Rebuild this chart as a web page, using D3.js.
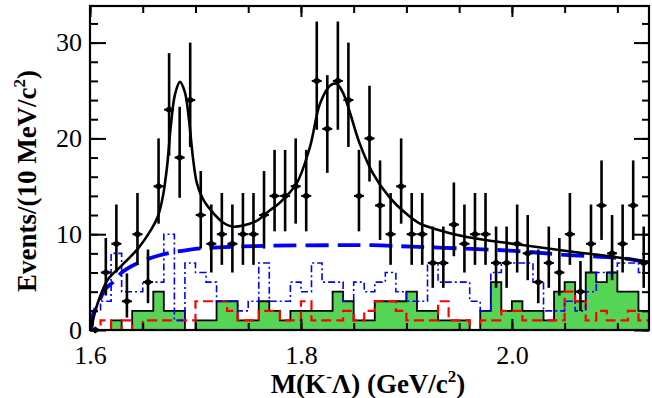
<!DOCTYPE html>
<html><head><meta charset="utf-8">
<script src="https://cdn.jsdelivr.net/npm/d3@7"></script>
<style>body{margin:0;background:#fff}svg{display:block}</style>
</head><body>
<svg id="chart" width="652" height="398"></svg>
<script>
// ---- data ----
const massBins = [1.605,1.615,1.625,1.635,1.645,1.655,1.665,1.675,1.685,1.695,
  1.705,1.715,1.725,1.735,1.745,1.755,1.765,1.775,1.785,1.795,
  1.805,1.815,1.825,1.835,1.845,1.855,1.865,1.875,1.885,1.895,
  1.905,1.915,1.925,1.935,1.945,1.955,1.965,1.975,1.985,1.995,
  2.005,2.015,2.025,2.035,2.045,2.055,2.065,2.075,2.085,2.095,
  2.105,2.115,2.125];
const counts = [0,6,9,3,10,5,15,23,18,24, 12,9,10,9,10,10,12,14,14,15,
  14,26,21,26,24,14,20,13,10,15, 10,10,7,7,11,9,10,10,7,7,
  9,8,5,7,6,10,4,9,13,8, 9,13,7];
const errLo = [0,2.4,3.0,1.7,3.2,2.2,3.9,4.8,4.2,4.9, 3.5,3.0,3.2,3.0,3.2,3.2,3.5,3.7,3.7,3.9,
  3.7,5.1,4.6,5.1,4.9,3.7,4.5,3.6,3.2,3.9, 3.2,3.2,2.6,2.6,3.3,3.0,3.2,3.2,2.6,2.6,
  3.0,2.8,2.2,2.6,2.4,3.2,2.0,3.0,3.6,2.8, 3.0,3.6,2.6];
const errHi = [0,3.6,4.1,2.9,4.3,3.4,5.0,5.9,5.3,6.0, 4.6,4.1,4.3,4.1,4.3,4.3,4.6,4.8,4.8,5.0,
  4.8,6.2,5.6,6.2,6.0,4.8,5.5,4.7,4.3,5.0, 4.3,4.3,3.8,3.8,4.4,4.1,4.3,4.3,3.8,3.8,
  4.1,4.0,3.4,3.8,3.6,4.3,3.2,4.1,4.7,4.0, 4.1,4.7,3.8];
const greenHist = [0,0,1,0,2,2,4,2,2,0, 1,1,3,3,1,1,3,2,1,2,
  2,2,2,4,3,1,1,3,3,3, 4,2,2,1,1,1,0,2,5,2,
  3,2,2,1,4,5,3,6,5,6, 4,4,2];
const redHist = [0,1,0,1,0,1,1,1,1,1, 3,3,3,2,1,1,2,2,1,1,
  3,1,1,1,2,1,2,3,3,2, 1,1,1,3,1,1,0,1,1,2,
  2,1,1,1,1,4,3,1,2,1, 1,2,1];
const blueHist = [2,3,8,4,4,5,5,10,1,7, 6,5,3,3,2,3,7,3,3,5,
  4,7,5,5,3,5,4,5,6,4, 3,3,7,5,5,5,3,2,6,7,
  7,7,5,2,2,3,2,4,6,6, 7,7,6];
const fitMass = [1.6000,1.6012,1.6076,1.6171,1.6297,1.6455,1.6581,1.6645,1.6692,1.6730,
  1.6768,1.6806,1.6853,1.6900,1.6938,1.6976,1.7014,1.7074,1.7169,1.7264,
  1.7343,1.7453,1.7580,1.7706,1.7801,1.7959,1.8085,1.8180,1.8275,1.8338,
  1.8401,1.8464,1.8559,1.8685,1.8844,1.9002,1.9128,1.9254,1.9571,2.0045,
  2.0519,2.0992,2.1300];
const fitValue = [0,0.4,2.9,5.3,6.7,8.5,10.5,11.9,14.0,17.0,
  21.5,24.6,25.9,24.8,22.0,18.0,15.3,13.6,12.2,11.2,
  10.8,10.9,11.4,12.5,13.3,15.3,19.1,23.6,25.5,25.7,
  24.7,22.7,19.4,16.3,13.8,12.1,11.1,10.6,9.7,8.95,
  8.25,7.6,7.1];
const bgMass = [1.6000,1.6017,1.6028,1.6092,1.6140,1.6218,1.6313,1.6455,1.6661,1.6950,
  1.7270,1.7750,1.8300,1.8670,1.9050,1.9550,2.0030,2.0500,2.1070,2.1300];
const bgValue = [0,0.4,1.6,3.1,4.2,5.0,6.1,7.0,7.8,8.4,
  8.65,8.8,8.85,8.85,8.7,8.5,8.25,7.85,7.45,7.05];
const xTickValues = [1.6,1.8,2.0];
const xTickLabels = ["1.6","1.8","2.0"];
const yTickValues = [0,10,20,30];
const yTickLabels = ["0","10","20","30"];

// ---- layout ----
const L = 90, R = 649, T = 6, B = 330;
const binW = 0.01;
const x = d3.scaleLinear().domain([1.6, 2.13]).range([L, R]);
const y = d3.scaleLinear().domain([0, 33.82]).range([B, T]);
const svg = d3.select("#chart");
const serif = "'Liberation Serif','Times New Roman',serif";

svg.append("defs").append("clipPath").attr("id","plot")
  .append("rect").attr("x",L).attr("y",T).attr("width",R-L).attr("height",B-T);
const plot = svg.append("g").attr("clip-path","url(#plot)");

// histogram step points
function stepPoints(vals){
  const pts = [[massBins[0]-binW/2, 0]];
  vals.forEach((v,i)=>pts.push([massBins[i]-binW/2, v]));
  pts.push([massBins[massBins.length-1]+binW/2, vals[vals.length-1]]);
  pts.push([massBins[massBins.length-1]+binW/2, 0]);
  return pts;
}
const stepLine = d3.line().x(d=>x(d[0])).y(d=>y(d[1])).curve(d3.curveStepAfter);
const stepArea = d3.area().x(d=>x(d[0])).y0(y(0)).y1(d=>y(d[1])).curve(d3.curveStepAfter);

const gPts = stepPoints(greenHist);
plot.append("path").attr("d", stepArea(gPts)).attr("fill","#55d455").attr("stroke","none");
plot.append("path").attr("d", stepLine(gPts)).attr("fill","none").attr("stroke","#000").attr("stroke-width",1.8);

plot.append("path").attr("d", stepLine(stepPoints(redHist))).attr("fill","none")
  .attr("stroke","#ff0000").attr("stroke-width",2.2).attr("stroke-dasharray","10,5");

plot.append("path").attr("d", stepLine(stepPoints(blueHist))).attr("fill","none")
  .attr("stroke","#0000ff").attr("stroke-width",1.6).attr("stroke-dasharray","7,3,2,3");

// background (long dashed)
const smooth = d3.line().x(d=>x(d[0])).y(d=>y(d[1])).curve(d3.curveCatmullRom.alpha(0.5));
plot.append("path").attr("d", smooth(bgMass.map((m,i)=>[m,bgValue[i]]))).attr("fill","none")
  .attr("stroke","#0000ff").attr("stroke-width",3.8).attr("stroke-dasharray","23,9");

// total fit
plot.append("path").attr("d", smooth(fitMass.map((m,i)=>[m,fitValue[i]]))).attr("fill","none")
  .attr("stroke","#000").attr("stroke-width",2.6);

// data points
const pg = svg.append("g");
massBins.forEach((m,i)=>{
  const cx = x(m), cy = y(counts[i]);
  if (errHi[i] > 0) {
    pg.append("line").attr("x1",cx).attr("x2",cx)
      .attr("y1", y(Math.max(0, counts[i]-errLo[i]))).attr("y2", y(counts[i]+errHi[i]))
      .attr("stroke","#000").attr("stroke-width",2.6);
  }
  pg.append("path").attr("d",`M${cx-5},${cy}L${cx},${cy-3.6}L${cx+5},${cy}L${cx},${cy+3.6}Z`)
    .attr("fill","#000");
  pg.append("line").attr("x1",cx-5).attr("x2",cx+5).attr("y1",cy).attr("y2",cy)
    .attr("stroke","#000").attr("stroke-width",2);
});

// ---- axes: ticks inside on all four sides ----
const yMinor = d3.range(0, 34, 2);
const xMinor = d3.range(0, 11).map(i => +(1.6 + i*0.05).toFixed(2)).filter(v=>v<=2.13);
function ticks(axis, tx, ty){
  const g = svg.append("g").attr("transform",`translate(${tx},${ty})`).call(axis);
  g.select(".domain").remove();
  g.selectAll("line").attr("stroke","#000").attr("stroke-width",2);
  return g;
}
ticks(d3.axisRight(y).tickValues(yMinor).tickSize(8).tickFormat(""), L, 0);
ticks(d3.axisRight(y).tickValues(yTickValues).tickSize(16).tickFormat(""), L, 0);
ticks(d3.axisLeft(y).tickValues(yMinor).tickSize(7).tickFormat(""), R, 0);
ticks(d3.axisLeft(y).tickValues(yTickValues).tickSize(15).tickFormat(""), R, 0);
ticks(d3.axisBottom(x).tickValues(xMinor).tickSize(7).tickFormat(""), 0, T);
ticks(d3.axisBottom(x).tickValues(xTickValues).tickSize(11).tickFormat(""), 0, T);
ticks(d3.axisTop(x).tickValues(xMinor).tickSize(7).tickFormat(""), 0, B);
ticks(d3.axisTop(x).tickValues(xTickValues).tickSize(11).tickFormat(""), 0, B);

// frame
svg.append("rect").attr("x",L).attr("y",T).attr("width",R-L).attr("height",B-T)
  .attr("fill","none").attr("stroke","#000").attr("stroke-width",2.2);

// tick labels
const yl = svg.append("g").attr("transform",`translate(${L},0)`)
  .call(d3.axisLeft(y).tickValues(yTickValues).tickSize(0).tickPadding(8)
    .tickFormat((d,i)=>yTickLabels[i]));
yl.select(".domain").remove();
yl.selectAll("text").attr("font-family",serif).attr("font-size",26).attr("fill","#000");

const xl = svg.append("g").attr("transform",`translate(0,${B})`)
  .call(d3.axisBottom(x).tickValues(xTickValues).tickSize(0).tickPadding(16)
    .tickFormat((d,i)=>xTickLabels[i]));
xl.select(".domain").remove();
xl.selectAll("text").attr("font-family",serif).attr("font-size",26).attr("fill","#000");

// axis titles
const xt = svg.append("text").attr("x",368).attr("y",393).attr("text-anchor","middle")
  .attr("font-family",serif).attr("font-size",27).attr("font-weight","bold").attr("fill","#000");
xt.append("tspan").text("M(K");
xt.append("tspan").attr("font-size",17).attr("dy",-11).text("-");
xt.append("tspan").attr("dy",11).text("Λ) (GeV/c");
xt.append("tspan").attr("font-size",17).attr("dy",-11).text("2");
xt.append("tspan").attr("dy",11).text(")");

const yt = svg.append("text").attr("transform","translate(36,181) rotate(-90)").attr("text-anchor","middle")
  .attr("font-family",serif).attr("font-size",27).attr("font-weight","bold").attr("fill","#000");
yt.append("tspan").text("Events/(10 MeV/c");
yt.append("tspan").attr("font-size",17).attr("dy",-11).text("2");
yt.append("tspan").attr("dy",11).text(")");
</script>
</body></html>
